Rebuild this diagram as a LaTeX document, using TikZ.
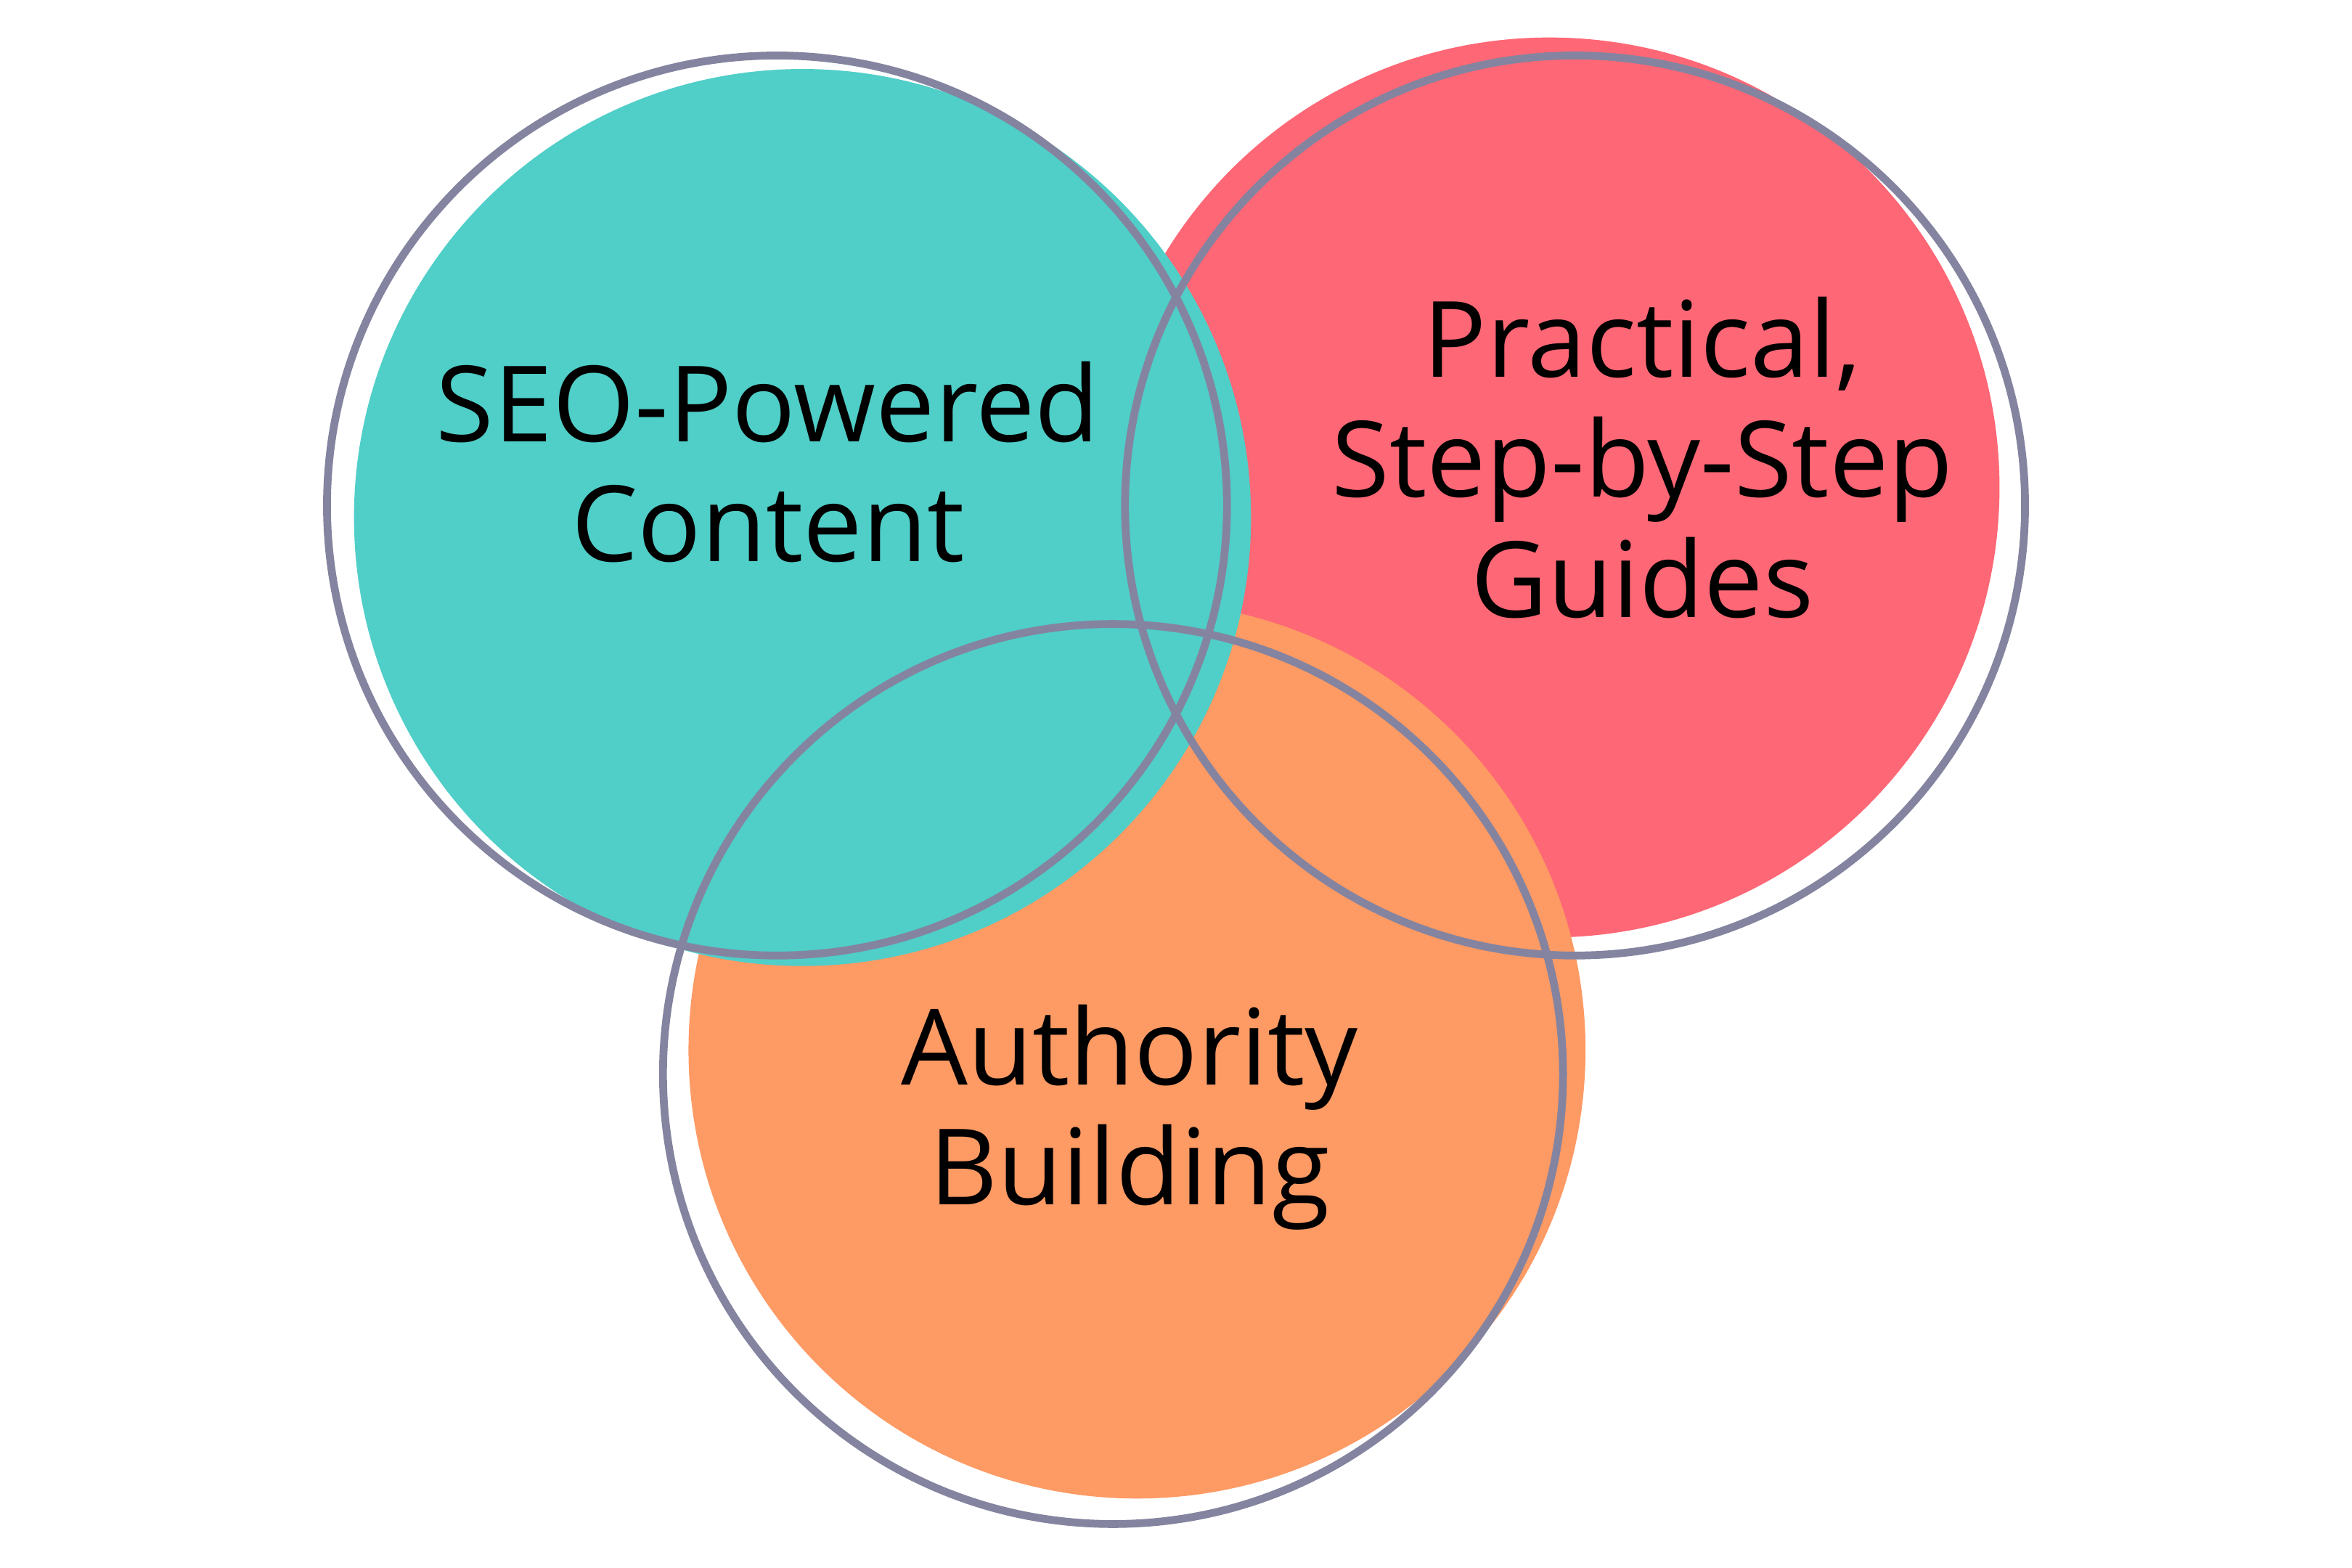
\documentclass[tikz,border=0pt]{standalone}
\usepackage{fontspec}
\setmainfont{Open Sans}
\definecolor{teal1}{HTML}{50CEC8}
\definecolor{red1}{HTML}{FE6775}
\definecolor{orange1}{HTML}{FE9A64}
\definecolor{ring}{HTML}{8484A0}
\begin{document}
\begin{tikzpicture}[x=0.5mm,y=-0.5mm,
  ringst/.style={draw=ring,line width=2.6mm},
  lbl/.style={align=center,font=\fontsize{100}{114}\selectfont,text=black}]
\useasboundingbox (0,0) rectangle (1568,1045);
\fill[red1] (1033,325) circle (300);
\fill[orange1] (758,700) circle (299);
\fill[teal1] (535,345) circle (299);
\draw[ringst] (518,337) circle (300);
\draw[ringst] (1050,337) circle (300);
\draw[ringst] (742,716) circle (300);
\node[lbl] (a) at (512,308) {SEO-Powered\\Content};
\node[lbl] (b) at (1095,305) {Practical,\\Step-by-Step\\Guides};
\node[lbl] (c) at (753,745) {Authority\\Building};
\end{tikzpicture}
\end{document}
